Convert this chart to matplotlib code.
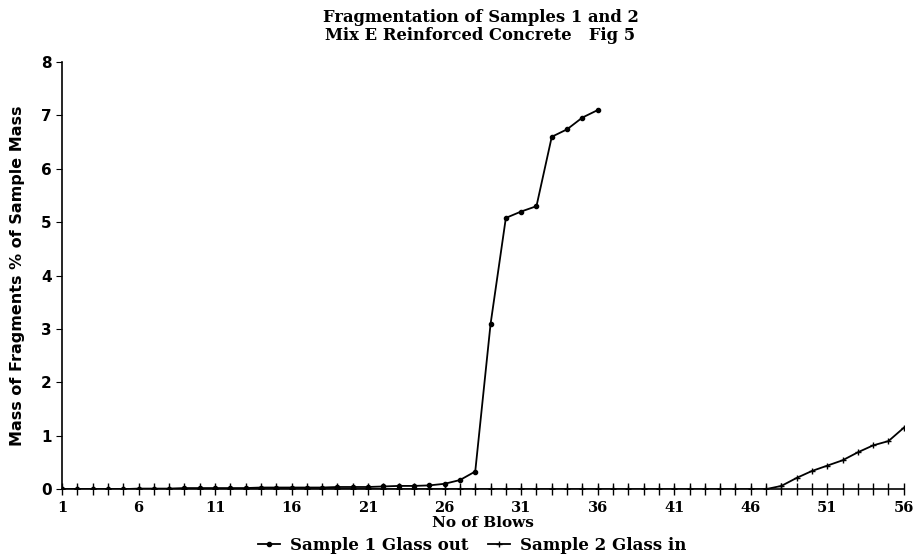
import numpy as np
import matplotlib
matplotlib.use('Agg')
import matplotlib.pyplot as plt

# 데이터
blows = list(range(1, 57))
s1_blows = list(range(1, 37))
s1_mass = [0, 0, 0, 0, 0, 0.01, 0.01, 0.01, 0.02, 0.02,
           0.02, 0.02, 0.02, 0.03, 0.03, 0.03, 0.03, 0.03, 0.04, 0.04,
           0.04, 0.05, 0.06, 0.06, 0.07, 0.10, 0.17, 0.33, 3.09, 5.08,
           5.20, 5.30, 6.60, 6.74, 6.96, 7.10]
s2_mass = [0] * 47 + [0.06, 0.21, 0.34, 0.44, 0.54, 0.69, 0.82, 0.90, 1.15]
xticks = list(range(1, 57, 5))
yticks = list(range(0, 9))

plt.rcParams['font.family'] = ['DejaVu Serif']

fig = plt.figure(figsize=(9.17, 5.59), dpi=100)
ax = fig.add_axes([0.0676, 0.125, 0.918, 0.764])

ax.plot(blows, s2_mass, color='black', lw=1.3, marker='+', ms=5, mew=1.0,
        label='Sample 2 Glass in', zorder=2)
ax.plot(s1_blows, s1_mass, color='black', lw=1.3, marker='o', ms=3,
        label='Sample 1 Glass out', zorder=3)

ax.set_xlim(1, 56)
ax.set_ylim(0, 8)
ax.set_xticks(xticks)
ax.set_xticks(blows, minor=True)
ax.set_yticks(yticks)
ax.spines['top'].set_visible(False)
ax.spines['right'].set_visible(False)
ax.spines['left'].set_linewidth(1.2)
ax.spines['bottom'].set_linewidth(1.2)
ax.tick_params(axis='x', which='both', direction='inout', length=9, width=1.0,
               pad=4, labelsize=10.5)
ax.tick_params(axis='y', direction='out', length=4, labelsize=11)
for lab in ax.get_xticklabels():
    lab.set_fontweight('bold')
for lab in ax.get_yticklabels():
    lab.set_fontweight('bold')
    lab.set_family('DejaVu Sans')

ax.set_xlabel('No of Blows', fontsize=11, fontweight='bold', labelpad=1)
ax.set_ylabel('Mass of Fragments % of Sample Mass', fontsize=11.5,
              fontweight='bold', family='DejaVu Sans')
ax.yaxis.set_label_coords(-0.044, 0.5)

fig.text(0.524, 0.968, 'Fragmentation of Samples 1 and 2', ha='center',
         va='center', fontsize=11.8, fontweight='bold')
fig.text(0.524, 0.937, 'Mix E Reinforced Concrete   Fig 5', ha='center',
         va='center', fontsize=11.8, fontweight='bold')

h, l = ax.get_legend_handles_labels()
fig.legend(h[::-1], l[::-1], loc='center', bbox_to_anchor=(0.515, 0.024), ncol=2,
           frameon=False, handlelength=1.3, handletextpad=0.6, columnspacing=1.2,
           borderpad=0.1, prop={'weight': 'bold', 'size': 12})

fig.savefig('out.png', dpi=100)
